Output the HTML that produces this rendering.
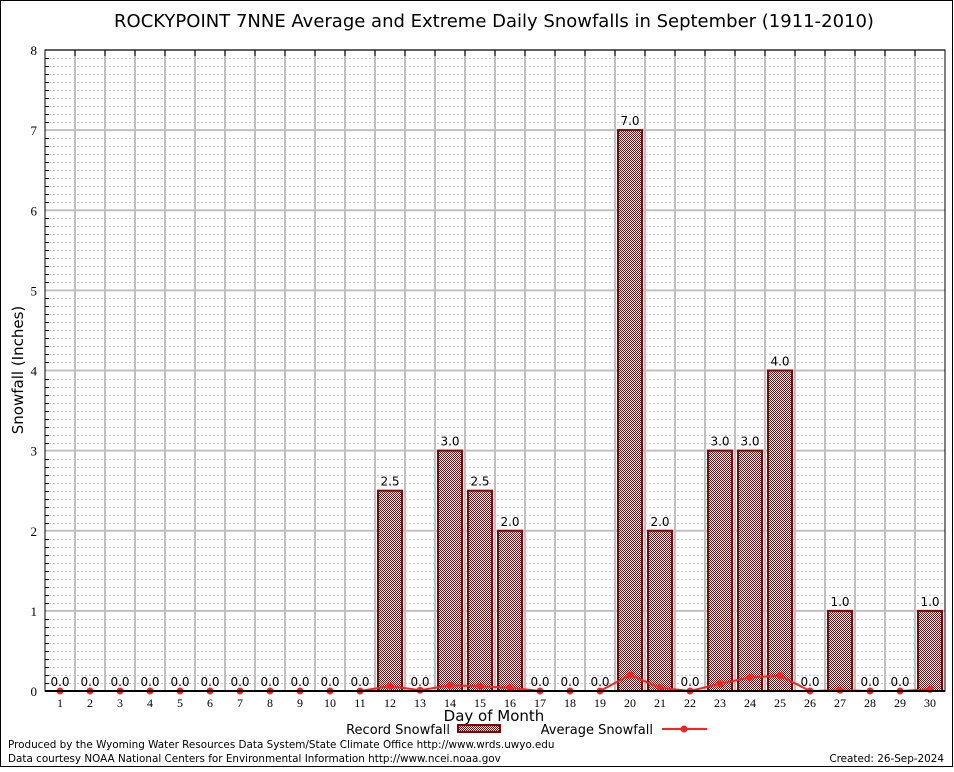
<!DOCTYPE html>
<html><head><meta charset="utf-8"><style>
body{margin:0;background:#fff;width:954px;height:768px;overflow:hidden;font-family:"DejaVu Sans","Liberation Sans",sans-serif}
</style></head><body>
<svg id="c" width="954" height="768" xmlns="http://www.w3.org/2000/svg">
<defs>
<pattern id="chk" width="2" height="2" patternUnits="userSpaceOnUse">
<rect width="2" height="2" fill="#fff"/><rect width="1" height="1" fill="#a00000"/><rect x="1" y="1" width="1" height="1" fill="#a00000"/>
</pattern>
</defs>
<rect x="0.5" y="0.5" width="952" height="766" fill="#fff" stroke="#000"/>
<text x="494" y="27" font-size="18" text-anchor="middle" fill="#000">ROCKYPOINT 7NNE Average and Extreme Daily Snowfalls in September (1911-2010)</text>
<g id="grid"></g>
<g id="bars"></g>
<g id="avg"></g>
<g id="axes"></g>
<text x="23" y="370" font-size="15" text-anchor="middle" transform="rotate(-90 23 370)">Snowfall (Inches)</text>
<text x="494" y="721" font-size="15" text-anchor="middle">Day of Month</text>
<g>
<text x="450" y="734" font-size="13" text-anchor="end">Record Snowfall</text>
<rect x="458" y="725" width="42" height="7" fill="url(#chk)" stroke="#8b0000" stroke-width="2"/>
<text x="653" y="734" font-size="13" text-anchor="end">Average Snowfall</text>
<line x1="662" y1="729" x2="707" y2="729" stroke="#ff2020" stroke-width="2"/>
<circle cx="684" cy="729" r="3.5" fill="#ff2020"/>
</g>
<text x="8" y="748" font-size="10.4">Produced by the Wyoming Water Resources Data System/State Climate Office http://www.wrds.uwyo.edu</text>
<text x="8" y="762" font-size="10.4">Data courtesy NOAA National Centers for Environmental Information http://www.ncei.noaa.gov</text>
<text x="944" y="762" font-size="10.4" text-anchor="end">Created: 26-Sep-2024</text>
</svg>
<script>
const days=[1,2,3,4,5,6,7,8,9,10,11,12,13,14,15,16,17,18,19,20,21,22,23,24,25,26,27,28,29,30];
const recordSnow=[0,0,0,0,0,0,0,0,0,0,0,2.5,0,3,2.5,2,0,0,0,7,2,0,3,3,4,0,1,0,0,1];
const avgSnow=[0,0,0,0,0,0,0,0,0,0,0,0.06,0.01,0.07,0.06,0.04,0,0,0,0.2,0.04,0,0.09,0.17,0.19,0,0.01,0,0,0.02];
const yTicks=[0,1,2,3,4,5,6,7,8];
const NS="http://www.w3.org/2000/svg";
const L=45,R=945,T=50,B=691;
const X=d=>60+(d-1)*30;
const Y=v=>B-(v/8)*(B-T);
function mk(tag,attrs,parent){const e=document.createElementNS(NS,tag);for(const k in attrs)e.setAttribute(k,attrs[k]);parent.appendChild(e);return e;}
const grid=document.getElementById('grid'),bars=document.getElementById('bars'),avg=document.getElementById('avg'),axes=document.getElementById('axes');
for(let i=1;i<80;i++){if(i%10===0)continue;const y=Math.round(Y(i/10))+0.5;
const l=mk('line',{x1:L,x2:R,y1:y,y2:y,stroke:'#c4c4c4','stroke-dasharray':'2,2','stroke-width':1},grid);


const tk=mk('line',{x1:L,x2:L+4,y1:y,y2:y,stroke:'#000','stroke-width':1},axes);

}
yTicks.forEach(v=>{const y=Y(v);
const l=mk('line',{x1:L,x2:R,y1:y,y2:y,stroke:'#c0c0c0','stroke-width':2},grid);


const t=mk('text',{x:L-8,y:y+5,'font-size':13,'text-anchor':'end','font-family':'Liberation Serif, serif'},axes);t.textContent=v;

});
for(let d=1;d<30;d++){const x=X(d)+15;
const l=mk('line',{x1:x,x2:x,y1:T,y2:B,stroke:'#c0c0c0','stroke-width':2},grid);


const tk=mk('line',{x1:x,x2:x,y1:T,y2:T+6,stroke:'#000','stroke-width':1},axes);

}
days.forEach((d,i)=>{const v=recordSnow[i];const x=X(d);
if(v>0){const r=mk('rect',{x:x-12,y:Y(v),width:24,height:B-Y(v),fill:'url(#chk)',stroke:'#8b0000','stroke-width':2},bars);

}
const t=mk('text',{x:x,y:Y(v)-5,'font-size':12,'text-anchor':'middle'},bars);t.textContent=v.toFixed(1);


const tl=mk('text',{x:x,y:B+16,'font-size':12,'text-anchor':'middle','font-family':'Liberation Serif, serif'},axes);tl.textContent=d;

});
const pts=days.map((d,i)=>X(d)+','+Y(avgSnow[i])).join(' ');
const pl=mk('polyline',{points:pts,fill:'none',stroke:'#ff2020','stroke-width':2},avg);


days.forEach((d,i)=>{const c=mk('circle',{cx:X(d),cy:Y(avgSnow[i]),r:3.5,fill:'#ff2020'},avg);

});
const fr=mk('rect',{x:L,y:T,width:R-L,height:B-T,fill:'none',stroke:'#000','stroke-width':1},axes);


const bl=mk('line',{x1:L,x2:R,y1:B,y2:B,stroke:'#000','stroke-width':2},axes);


</script>
</body></html>
